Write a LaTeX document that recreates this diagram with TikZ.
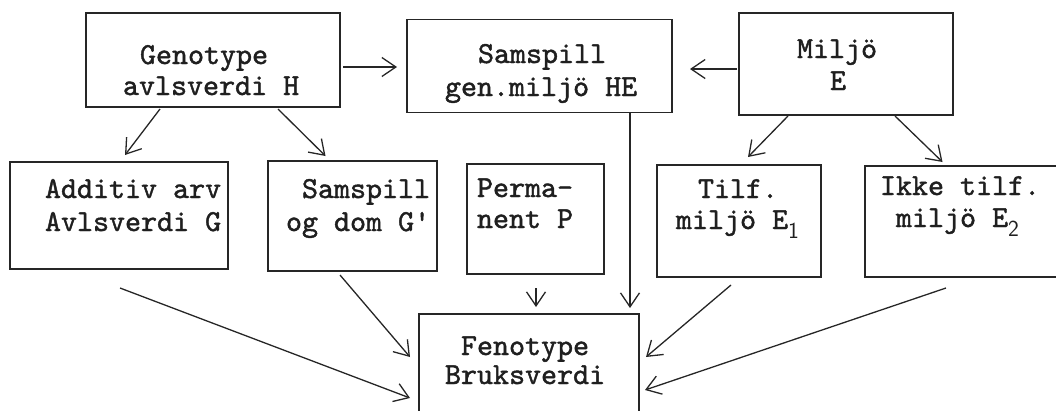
\documentclass[tikz,border=0pt]{standalone}
\usepackage{fontspec}
\usetikzlibrary{arrows.meta,calc}
\newfontfamily\tw{lmmono10-regular}[Extension=.otf,FakeBold=1.4]
\newcommand{\subdig}[1]{\raisebox{-0.32em}{\fontsize{23}{23}\selectfont\sffamily #1}}
\begin{document}
\begin{tikzpicture}[x=1pt,y=-1pt,
  box/.style={draw=black!85,line width=1.3pt,inner sep=0pt,outer sep=0pt},
  txt/.style={inner sep=0pt,outer sep=0pt,anchor=base west,font=\tw\fontsize{30.5}{32}\selectfont,text=black!88},
  arr/.style={draw=black!85,line width=1.3pt,-{Straight Barb[length=14pt,width=19pt,line width=1.3pt]}}]
\useasboundingbox (0,0) rectangle (1056,410);
\clip (0,0) rectangle (1056,410);
% boxes
\node[box,minimum width=254pt,minimum height=94pt] (gen) at (213,60) {};
\node[box,minimum width=265pt,minimum height=93pt] (he) at (539.5,66) {};
\node[box,minimum width=214pt,minimum height=102pt] (mil) at (846,64) {};
\node[box,minimum width=218pt,minimum height=107pt] (add) at (119,215.5) {};
\node[box,minimum width=169pt,minimum height=110pt] (sgd) at (352.5,216) {};
\node[box,minimum width=137pt,minimum height=110pt] (perm) at (535.5,219) {};
\node[box,minimum width=164pt,minimum height=112pt] (tilf) at (739,221) {};
\node[box,minimum width=245pt,minimum height=111pt] (ikke) at (987.5,221.5) {};
\node[box,minimum width=220pt,minimum height=116pt] (feno) at (529,372) {};
% texts
\node[txt] (gen1) at (140,64) {Genotype};
\node[txt] (gen2) at (123,95) {avlsverdi H};
\node[txt] (he1) at (478,63) {Samspill};
\node[txt] (he2) at (445,96) {gen.miljö HE};
\node[txt] (mil1) at (797,58) {Miljö};
\node[txt] (mil2) at (830,90) {E};
\node[txt] (add1) at (45,198) {Additiv arv};
\node[txt] (add2) at (45,231) {Avlsverdi G};
\node[txt] (sgd1) at (302,198) {Samspill};
\node[txt] (sgd2) at (286,231) {og dom G'};
\node[txt] (perm1) at (477,197) {Perma-};
\node[txt] (perm2) at (477,228) {nent P};
\node[txt] (tilf1) at (698,198) {Tilf.};
\node[txt] (tilf2) at (676,229) {miljö E\subdig{1}};
\node[txt] (ikke1) at (880,195) {Ikke tilf.};
\node[txt] (ikke2) at (896,227) {miljö E\subdig{2}};
\node[txt] (feno1) at (461,355) {Fenotype};
\node[txt] (feno2) at (445,384) {Bruksverdi};
% connectors
\draw[arr] ($(gen.east)+(3,7)$) -- ($(he.west)+(-10,1)$);
\draw[arr] ($(mil.west)+(-2,5)$) -- ($(he.east)+(18,3)$);
\draw[arr] ($(gen.south)+(-53,2)$) -- ($(add.north)+(6,-7)$);
\draw[arr] ($(gen.south)+(65,2)$) -- ($(sgd.north)+(-27,-5)$);
\draw[arr] ($(mil.south)+(-58,1)$) -- ($(tilf.north)+(9,-8)$);
\draw[arr] ($(mil.south)+(49,1)$) -- ($(ikke.north)+(-45,-4)$);
\draw[arr] ($(he.south)+(90.5,0)$) -- ($(feno.north)+(101,-6)$);
\draw[arr] ($(perm.south)+(0.5,14)$) -- ($(feno.north)+(7,-7)$);
\draw[arr] ($(add.south)+(1,19)$) -- ($(feno.west)+(-9,26)$);
\draw[arr] ($(sgd.south)+(-12.5,4)$) -- ($(feno.west)+(-9,-15)$);
\draw[arr] ($(tilf.south)+(-8,8)$) -- ($(feno.east)+(7,-15)$);
\draw[arr] ($(ikke.south)+(-41.5,11)$) -- ($(feno.east)+(6,18)$);
\end{tikzpicture}
\end{document}
